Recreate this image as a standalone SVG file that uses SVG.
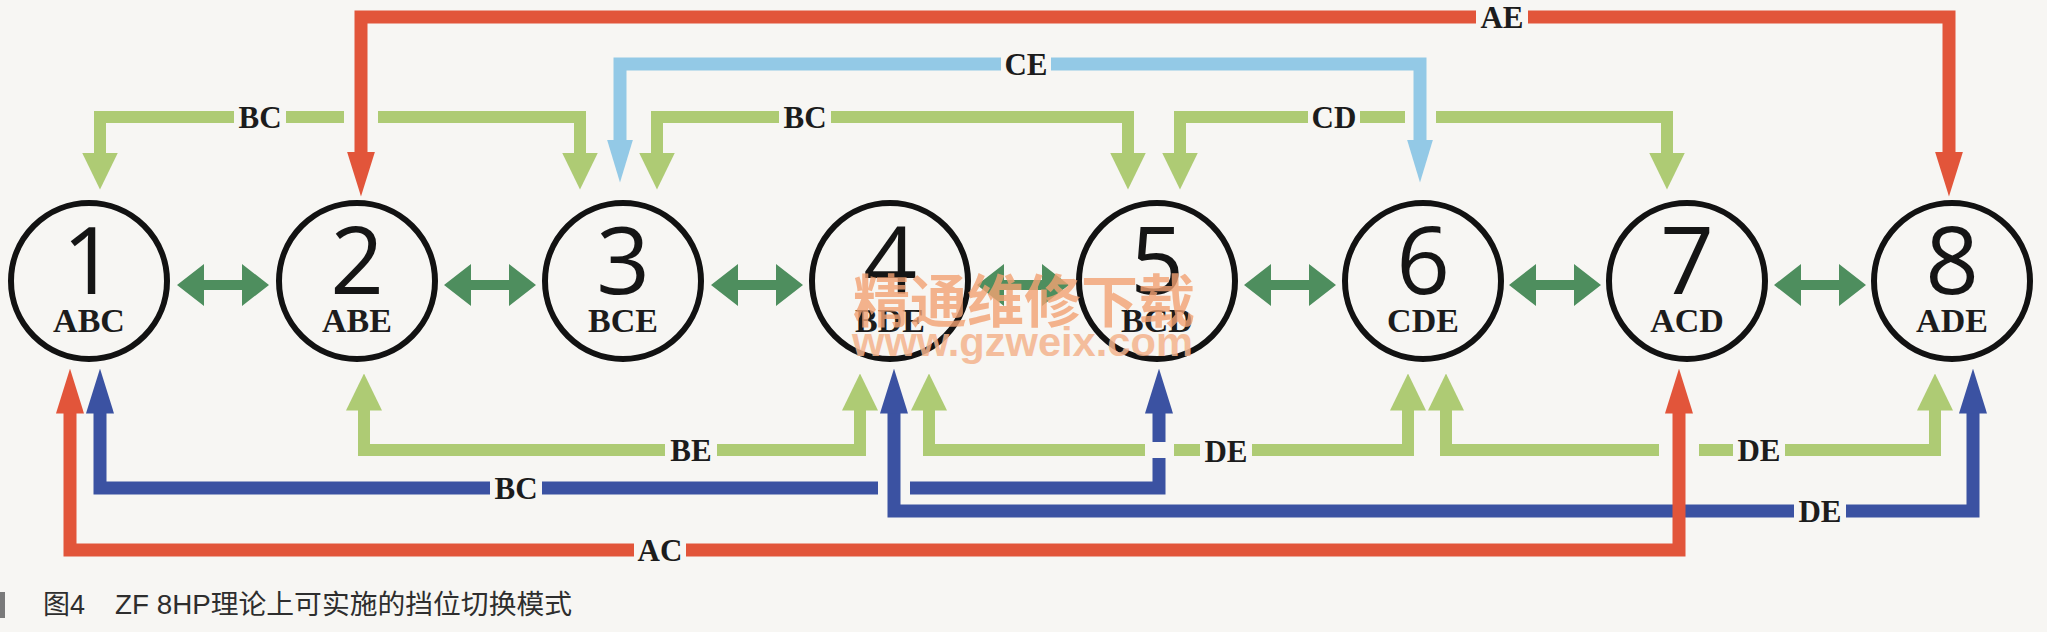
<svg xmlns="http://www.w3.org/2000/svg" width="2047" height="632" viewBox="0 0 2047 632">
<style>
.bg{fill:#f7f6f3}
.n circle{fill:none;stroke:#121212;stroke-width:6}
.num{font-family:"Open Sans","Liberation Sans",sans-serif;font-size:94px;fill:#151515;text-anchor:middle}
.sub{font-family:"Liberation Serif","Times New Roman",serif;font-weight:bold;font-size:34px;fill:#1c1c1c;text-anchor:middle}
.lbl{font-family:"Liberation Serif","Times New Roman",serif;font-weight:bold;font-size:31px;fill:#1c1c1c;text-anchor:middle}
.c{fill:none;stroke-linecap:butt;stroke-linejoin:miter}
.red{stroke:#e2553a;stroke-width:13;marker-start:url(#hr);marker-end:url(#hr)}
.dblue{stroke:#3b52a2;stroke-width:13;marker-start:url(#hb);marker-end:url(#hb)}
.lblue{stroke:#93c9e6;stroke-width:13;marker-start:url(#hl);marker-end:url(#hl)}
.green{stroke:#aecb74;stroke-width:12;marker-start:url(#hg);marker-end:url(#hg)}
.gap{fill:#f7f6f3}
.dbl{fill:#4e8e5e}
.cap{font-family:"Liberation Sans","Noto Sans CJK SC",sans-serif;font-size:27px;fill:#2e2e2e}
.wm1{font-family:"Noto Sans CJK SC",serif;font-weight:bold;font-size:57px;fill:#f3a273;opacity:0.8;text-anchor:middle}
.wm2{font-family:"Liberation Sans",sans-serif;font-weight:bold;font-size:40px;fill:#f4b48e;opacity:0.85}
</style>
<defs>
<marker id="hr" markerUnits="userSpaceOnUse" viewBox="0 -14 45 28" markerWidth="45" markerHeight="28" refX="0.5" refY="0" orient="auto-start-reverse"><path d="M0,-14 L45,0 L0,14 Z" fill="#e2553a"/></marker>
<marker id="hb" markerUnits="userSpaceOnUse" viewBox="0 -14 45 28" markerWidth="45" markerHeight="28" refX="0.5" refY="0" orient="auto-start-reverse"><path d="M0,-14 L45,0 L0,14 Z" fill="#3b52a2"/></marker>
<marker id="hl" markerUnits="userSpaceOnUse" viewBox="0 -13 43 26" markerWidth="43" markerHeight="26" refX="0.5" refY="0" orient="auto-start-reverse"><path d="M0,-13 L43,0 L0,13 Z" fill="#93c9e6"/></marker>
<marker id="hg" markerUnits="userSpaceOnUse" viewBox="0 -18 37 36" markerWidth="37" markerHeight="36" refX="0.5" refY="0" orient="auto-start-reverse"><path d="M0,-18 L37,0 L0,18 Z" fill="#aecb74"/></marker>
<polygon id="dbl" points="-46,0 -19,-21 -19,-5 19,-5 19,-21 46,0 19,21 19,5 -19,5 -19,21"/>
</defs>
<rect class="bg" x="0" y="0" width="2047" height="632"/>

<g id="connectors">
  <!-- green top -->
  <path class="c green" d="M100,153 V117 H580 V153"/>
  <path class="c green" d="M657,153 V117 H1128 V153"/>
  <path class="c green" d="M1180,153 V117 H1667 V153"/>
  <!-- green bottom -->
  <path class="c green" d="M364,410 V450 H860 V410"/>
  <path class="c green" d="M929,410 V450 H1408 V410"/>
  <path class="c green" d="M1446,410 V450 H1935 V410"/>
  <!-- blue BC -->
  <path class="c dblue" d="M100,413 V488 H1159 V413"/>
  <!-- gaps at crossings -->
  <rect class="gap" x="344" y="109" width="34" height="16"/>
  <rect class="gap" x="1405" y="109" width="31" height="16"/>
  <rect class="gap" x="878" y="480" width="32" height="16"/>
  <rect class="gap" x="1145" y="442" width="29" height="16"/>
  <rect class="gap" x="1659" y="442" width="40" height="16"/>
  <!-- crossing lines -->
  <path class="c lblue" d="M620,140 V64 H1420 V140"/>
  <path class="c red" d="M361,152 V17 H1949 V152"/>
  <path class="c dblue" d="M894,413 V511 H1973 V413"/>
  <path class="c red" d="M70,413 V550 H1679 V413"/>
  <!-- labels -->
  <g id="labels">
    <rect class="gap" x="1476" y="8" width="52" height="18"/><text class="lbl" x="1502" y="28">AE</text>
    <rect class="gap" x="1001" y="55" width="50" height="18"/><text class="lbl" x="1026" y="75">CE</text>
    <rect class="gap" x="234" y="108" width="52" height="18"/><text class="lbl" x="260" y="128">BC</text>
    <rect class="gap" x="779" y="108" width="52" height="18"/><text class="lbl" x="805" y="128">BC</text>
    <rect class="gap" x="1308" y="108" width="52" height="18"/><text class="lbl" x="1334" y="128">CD</text>
    <rect class="gap" x="665" y="441" width="52" height="18"/><text class="lbl" x="691" y="461">BE</text>
    <rect class="gap" x="1200" y="441" width="52" height="18"/><text class="lbl" x="1226" y="462">DE</text>
    <rect class="gap" x="1733" y="441" width="52" height="18"/><text class="lbl" x="1759" y="461">DE</text>
    <rect class="gap" x="490" y="479" width="52" height="18"/><text class="lbl" x="516" y="499">BC</text>
    <rect class="gap" x="1794" y="502" width="52" height="18"/><text class="lbl" x="1820" y="522">DE</text>
    <rect class="gap" x="634" y="541" width="52" height="18"/><text class="lbl" x="660" y="561">AC</text>
  </g>
  <!-- double arrows between neighbours -->
  <g id="shifts" class="dbl">
    <use href="#dbl" x="223" y="285"/>
    <use href="#dbl" x="490" y="285"/>
    <use href="#dbl" x="757" y="285"/>
    <use href="#dbl" x="1023" y="285"/>
    <use href="#dbl" x="1290" y="285"/>
    <use href="#dbl" x="1555" y="285"/>
    <use href="#dbl" x="1820" y="285"/>
  </g>
</g>

<g id="node1" class="n"><circle cx="89" cy="281" r="78"/><text class="num" x="89" y="294">1</text><text class="sub" x="89" y="332">ABC</text></g>
<g id="node2" class="n"><circle cx="357" cy="281" r="78"/><text class="num" x="357" y="294">2</text><text class="sub" x="357" y="332">ABE</text></g>
<g id="node3" class="n"><circle cx="623" cy="281" r="78"/><text class="num" x="623" y="294">3</text><text class="sub" x="623" y="332">BCE</text></g>
<g id="node4" class="n"><circle cx="890" cy="281" r="78"/><text class="num" x="890" y="294">4</text><text class="sub" x="890" y="332">BDE</text></g>
<g id="node5" class="n"><circle cx="1157" cy="281" r="78"/><text class="num" x="1157" y="294">5</text><text class="sub" x="1157" y="332">BCD</text></g>
<g id="node6" class="n"><circle cx="1423" cy="281" r="78"/><text class="num" x="1423" y="294">6</text><text class="sub" x="1423" y="332">CDE</text></g>
<g id="node7" class="n"><circle cx="1687" cy="281" r="78"/><text class="num" x="1687" y="294">7</text><text class="sub" x="1687" y="332">ACD</text></g>
<g id="node8" class="n"><circle cx="1952" cy="281" r="78"/><text class="num" x="1952" y="294">8</text><text class="sub" x="1952" y="332">ADE</text></g>

<g id="watermark">
  <text class="wm1" x="1024" y="322">精通维修下载</text>
  <text class="wm2" x="852" y="356" textLength="341" lengthAdjust="spacingAndGlyphs">www.gzweix.com</text>
</g>

<g id="caption">
  <rect x="0" y="592" width="5" height="26" fill="#7a7a7a"/>
  <text class="cap" x="43" y="614">图4</text>
  <text class="cap" x="115" y="614" textLength="457" lengthAdjust="spacingAndGlyphs">ZF 8HP理论上可实施的挡位切换模式</text>
</g>
</svg>
